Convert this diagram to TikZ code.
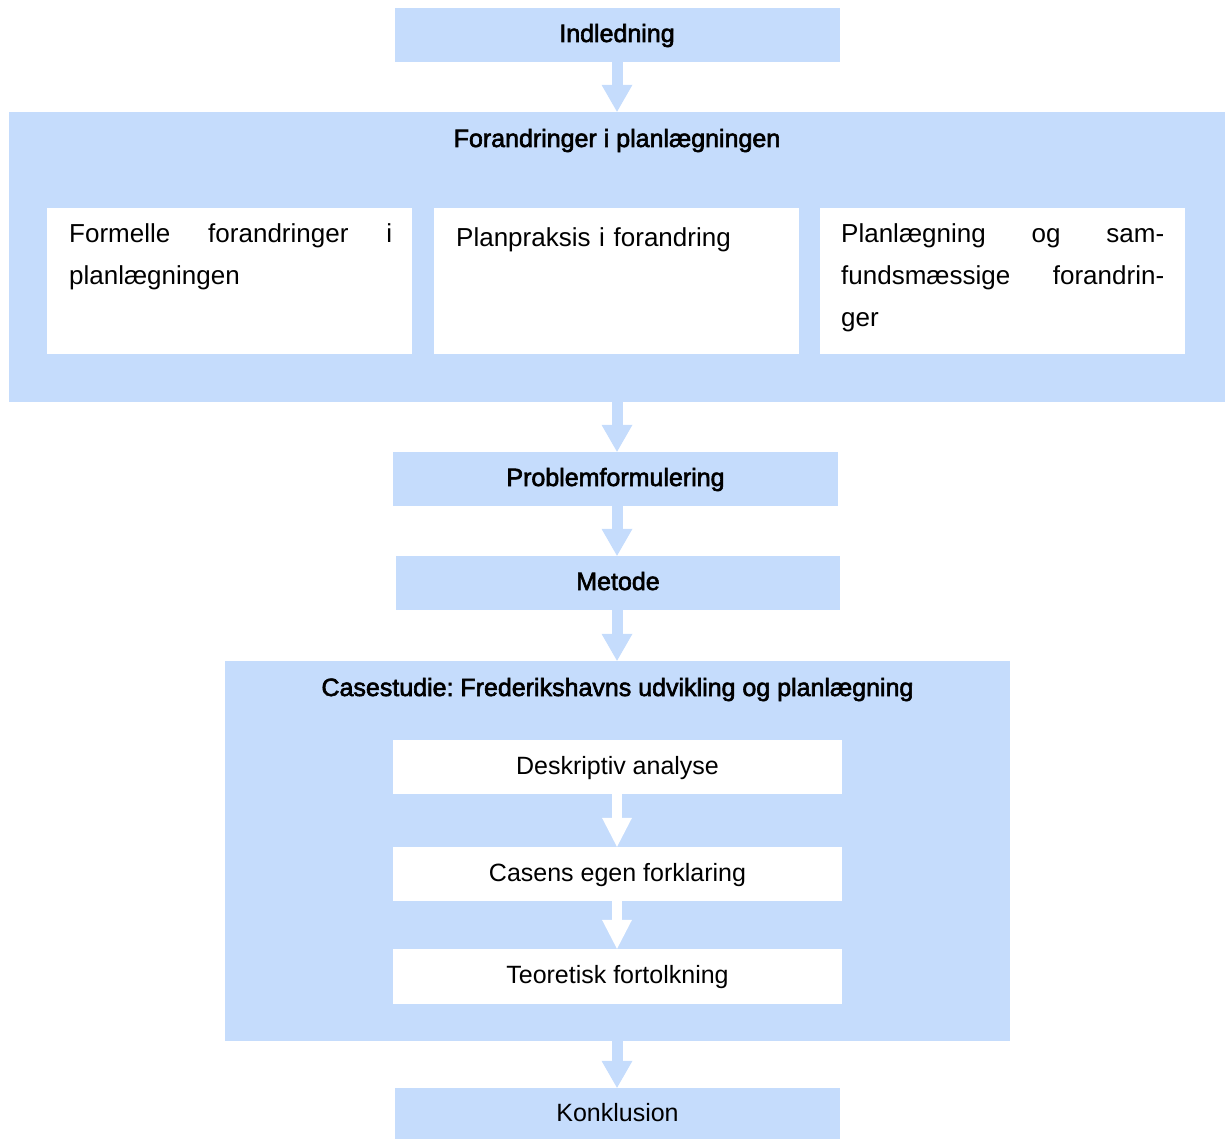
\documentclass[tikz,border=0pt]{standalone}
\usepackage{fontspec}
\setmainfont{Liberation Sans}
\newfontfamily\medfont[FakeBold=2.4]{Liberation Sans}
\usetikzlibrary{arrows.meta}
\definecolor{boxblue}{RGB}{197,220,252}
\tikzset{
  bluebox/.style={fill=boxblue, draw=none, inner sep=0pt},
  whitebox/.style={fill=white, draw=none, inner sep=0pt},
  boxtext/.style={font=\fontsize{25}{30}\selectfont, text height=21pt, text depth=7pt},
  titletext/.style={font=\fontsize{25}{30}\medfont, text height=21pt, text depth=7pt},
  paratext/.style={font=\fontsize{26}{42}\selectfont, inner sep=0pt, anchor=north west, text width=323pt, align=left},
  bluearrow/.style={draw=boxblue, line width=11pt, -{Triangle[width=31pt,length=27pt,line width=0pt]}},
  whitearrow/.style={draw=white, line width=10pt, -{Triangle[width=30pt,length=29pt,line width=0pt]}},
}
\begin{document}
\frenchspacing
\begin{tikzpicture}[x=1pt,y=-1pt]
\useasboundingbox (0,0) rectangle (1225,1139);
% top
\node[bluebox, titletext, minimum width=445pt, minimum height=54pt] (ind) at (617,35) {Indledning};
% forandringer
\node[bluebox, minimum width=1216pt, minimum height=290pt] (for) at (617,257) {};
\node[titletext, inner sep=0pt, anchor=base] (fortitle) at (617,147) {Forandringer i planlægningen};
\node[whitebox, minimum width=365pt, minimum height=146pt] (f1) at (229.5,281) {};
\node[whitebox, minimum width=365pt, minimum height=146pt] (f2) at (616.5,281) {};
\node[whitebox, minimum width=365pt, minimum height=146pt] (f3) at (1002.5,281) {};
\node[paratext] (t1) at (69,223) {Formelle\hfill forandringer\hfill i\\planlægningen};
\node[paratext] (t2) at (456,227) {Planpraksis i forandring};
\node[paratext] (t3) at (841,223) {Planlægning\hfill og\hfill sam-\\fundsmæssige\hfill forandrin-\\ger};
% problem / metode
\node[bluebox, titletext, minimum width=445pt, minimum height=54pt] (prob) at (615.5,479) {Problemformulering};
\node[bluebox, titletext, minimum width=444pt, minimum height=54pt] (met) at (618,583) {Metode};
% case
\node[bluebox, minimum width=785pt, minimum height=380pt] (case) at (617.5,851) {};
\node[titletext, inner sep=0pt, anchor=base] (casetitle) at (617.5,696) {Casestudie: Frederikshavns udvikling og planlægning};
\node[whitebox, boxtext, minimum width=449pt, minimum height=54pt] (d1) at (617.5,767) {Deskriptiv analyse};
\node[whitebox, boxtext, minimum width=449pt, minimum height=54pt] (d2) at (617.5,874) {Casens egen forklaring};
\node[whitebox, boxtext, minimum width=449pt, minimum height=55pt] (d3) at (617.5,976.5) {Teoretisk fortolkning};
% konklusion
\node[bluebox, boxtext, minimum width=445pt, minimum height=52pt] (kon) at (617.5,1114) {Konklusion};
% arrows
\draw[bluearrow] (ind.south) -- (ind.south |- for.north);
\draw[bluearrow] (for.south) -- (for.south |- prob.north);
\draw[bluearrow] (ind.south |- prob.south) -- (ind.south |- met.north);
\draw[bluearrow] (ind.south |- met.south) -- (ind.south |- case.north);
\draw[whitearrow] (ind.south |- d1.south) -- (ind.south |- d2.north);
\draw[whitearrow] (ind.south |- d2.south) -- (ind.south |- d3.north);
\draw[bluearrow] (ind.south |- case.south) -- (ind.south |- kon.north);
\end{tikzpicture}
\end{document}
